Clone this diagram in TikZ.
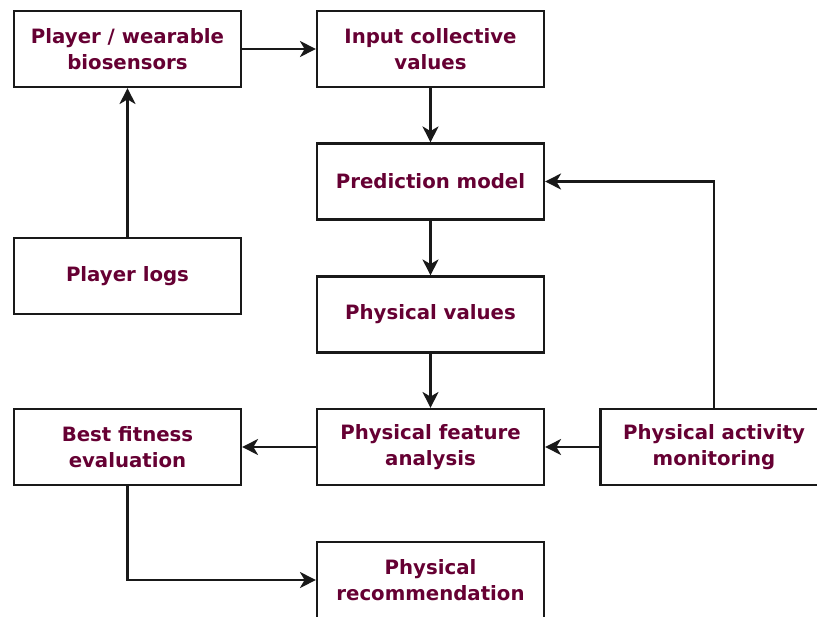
\documentclass[tikz,border=0pt]{standalone}
\usepackage{fontspec}
\setmainfont{DejaVu Sans}
\usetikzlibrary{arrows.meta}
\definecolor{labelred}{HTML}{660033}
\begin{document}
\begin{tikzpicture}[x=0.75pt,y=-0.75pt,
  block/.style={draw=black!90, line width=1.6pt, fill=white, minimum width=227*0.75pt,
    minimum height=76*0.75pt, inner sep=0pt, align=center,
    font=\fontsize{14.8}{19.5}\selectfont\bfseries, text=labelred},
  flow/.style={draw=black!90, line width=1.6pt, -{Stealth[length=12pt,width=12pt,inset=3.5pt]}}]
\useasboundingbox (0,0) rectangle (817,617);
\node[block] (sensors) at (127.5,49) {Player / wearable\\biosensors};
\node[block] (input)   at (430.5,49) {Input collective\\values};
\node[block] (model)   at (430.5,181.5) {Prediction model};
\node[block] (logs)    at (127.5,276) {Player logs};
\node[block] (values)  at (430.5,314.5) {Physical values};
\node[block] (fitness) at (127.5,447) {Best fitness\\evaluation};
\node[block] (feature) at (430.5,447) {Physical feature\\analysis};
\node[block] (monitor) at (714,447) {Physical activity\\monitoring};
\node[block] (recomm)  at (430.5,580) {Physical\\recommendation};

\draw[flow] (logs) -- (sensors);
\draw[flow] (sensors) -- (input);
\draw[flow] (input) -- (model);
\draw[flow] (model) -- (values);
\draw[flow] (values) -- (feature);
\draw[flow] (monitor) -- (feature);
\draw[flow] (feature) -- (fitness);
\draw[flow] (fitness.south) |- (recomm.west);
\draw[flow] (monitor.north) |- (model.east);
\end{tikzpicture}
\end{document}
